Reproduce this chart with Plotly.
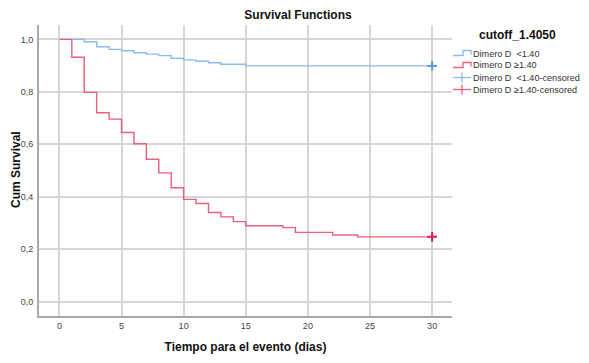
import plotly.graph_objects as go

# Kaplan-Meier step data
low_days = [0, 2, 3, 4, 5, 6, 7, 8, 9, 10, 11, 12, 13, 15, 30]
low_surv = [1.0, 0.991, 0.972, 0.962, 0.957, 0.949, 0.944, 0.938, 0.928, 0.922, 0.917, 0.911, 0.905, 0.899, 0.899]

high_days = [0, 1, 2, 3, 4, 5, 6, 7, 8, 9, 10, 11, 12, 13, 14, 15, 18, 19, 22, 24, 30]
high_surv = [1.0, 0.932, 0.798, 0.720, 0.696, 0.645, 0.602, 0.543, 0.491, 0.434, 0.390, 0.374,
             0.340, 0.323, 0.305, 0.289, 0.282, 0.264, 0.254, 0.247, 0.247]

cens_low_days = [30]
cens_low_surv = [0.899]
cens_high_days = [30]
cens_high_surv = [0.247]

x_ticks = [0, 5, 10, 15, 20, 25, 30]
y_ticks = [0.0, 0.2, 0.4, 0.6, 0.8, 1.0]
y_tick_labels = ["0,0", "0,2", "0,4", "0,6", "0,8", "1,0"]

legend_title = "cutoff_1.4050"
legend_names = ["Dimero D  <1.40", "Dimero D ≥1.40", "Dimero D  <1.40-censored", "Dimero D ≥1.40-censored"]

blue_line = "#8dbbee"
blue_mark = "#5a9ae0"
red_line = "#e8607f"
red_mark = "#dc1e4c"

# the page body has an 8px margin; layout is defined in screen pixels and shifted
OFF = 8
W, H = 589, 363
SL, SR, ST, SB = 39, 452, 25, 316      # plot area in screen px
L, T = SL - OFF, ST - OFF
PW, PH = SR - SL, SB - ST
R, B = W - L - PW, H - T - PH


def px_x(p):
    return (p - SL) / PW


def px_y(p):
    return 1 - (p - ST) / PH


fig = go.Figure()
fig.add_trace(go.Scatter(x=low_days, y=low_surv, mode="lines", line=dict(shape="hv", color=blue_line, width=1.4),
                         name=legend_names[0]))
fig.add_trace(go.Scatter(x=high_days, y=high_surv, mode="lines", line=dict(shape="hv", color=red_line, width=1.4),
                         name=legend_names[1]))
fig.add_trace(go.Scatter(x=cens_low_days, y=cens_low_surv, mode="markers",
                         marker=dict(symbol="cross-thin-open", size=7, color=blue_mark,
                                     line=dict(color=blue_mark, width=2)),
                         name=legend_names[2]))
fig.add_trace(go.Scatter(x=cens_high_days, y=cens_high_surv, mode="markers",
                         marker=dict(symbol="cross-thin-open", size=7, color=red_mark,
                                     line=dict(color=red_mark, width=2)),
                         name=legend_names[3]))

# manual legend (SPSS style)
shapes = []
annotations = []
x0, x1, xt = 453, 471, 471
rows = [53.5, 65.5, 77.5, 89.5]
colors_line = [blue_line, red_line, blue_line, red_line]
for i, (yc, name) in enumerate(zip(rows, legend_names)):
    if i < 2:
        path = "M {} {} L {} {} L {} {} L {} {} L {} {}".format(
            px_x(x0), px_y(yc + 2), px_x(x0 + 10), px_y(yc + 2), px_x(x0 + 10), px_y(yc - 3),
            px_x(x1), px_y(yc - 3), px_x(x1), px_y(yc + 1))
        shapes.append(dict(type="path", path=path, xref="paper", yref="paper",
                           line=dict(color=colors_line[i], width=1.3)))
    else:
        shapes.append(dict(type="line", xref="paper", yref="paper", x0=px_x(x0), x1=px_x(x1),
                           y0=px_y(yc), y1=px_y(yc), line=dict(color=colors_line[i], width=1.3)))
        shapes.append(dict(type="line", xref="paper", yref="paper", x0=px_x(462), x1=px_x(462),
                           y0=px_y(yc - 5), y1=px_y(yc + 5), line=dict(color=colors_line[i], width=1.3)))
    annotations.append(dict(text=name, xref="paper", yref="paper", x=px_x(xt), y=px_y(yc),
                            xanchor="left", yanchor="middle", showarrow=False,
                            font=dict(size=9.1, color="#333333")))
annotations.append(dict(text="<b>" + legend_title + "</b>", xref="paper", yref="paper", x=px_x(518),
                        y=px_y(35), xanchor="center", yanchor="middle", showarrow=False,
                        font=dict(size=12, color="#111111")))
# y axis title placed like SPSS (kept inside the figure's left edge)
annotations.append(dict(text="<b>Cum Survival</b>", xref="paper", yref="paper", x=px_x(16),
                        y=px_y(170), xanchor="center", yanchor="middle", showarrow=False, textangle=-90,
                        font=dict(size=12, color="#111111")))

fig.update_layout(
    width=W, height=H,
    margin=dict(l=L, r=R, t=T, b=B, autoexpand=False),
    paper_bgcolor="white", plot_bgcolor="white",
    showlegend=False,
    font=dict(family="Arial, Liberation Sans, sans-serif", size=10, color="#333333"),
    title=dict(text="<b>Survival Functions</b>", x=(298 - OFF) / W, xanchor="center",
               y=1 - (15 - OFF) / H, yanchor="middle",
               font=dict(size=12, color="#111111")),
    xaxis=dict(range=[-1.64, 31.6], tickvals=x_ticks, ticktext=[str(v) for v in x_ticks],
               showgrid=True, gridcolor="#d6d6d6", gridwidth=1.5, zeroline=False,
               showline=True, linecolor="#a9a9a9", linewidth=2, ticks="", tickfont=dict(size=9, color="#444444"),
               ticklabelstandoff=0,
               title=dict(text="<b>Tiempo para el evento (dias)</b>", font=dict(size=12, color="#111111"), standoff=13)),
    yaxis=dict(range=[-0.055, 1.055], tickvals=y_ticks, ticktext=y_tick_labels,
               showgrid=True, gridcolor="#d6d6d6", gridwidth=1.5, zeroline=False,
               showline=True, linecolor="#a9a9a9", linewidth=2, ticks="", tickfont=dict(size=9, color="#444444"),
               ticklabelstandoff=2),
    shapes=shapes,
    annotations=annotations,
)

fig.write_html("out.html")
